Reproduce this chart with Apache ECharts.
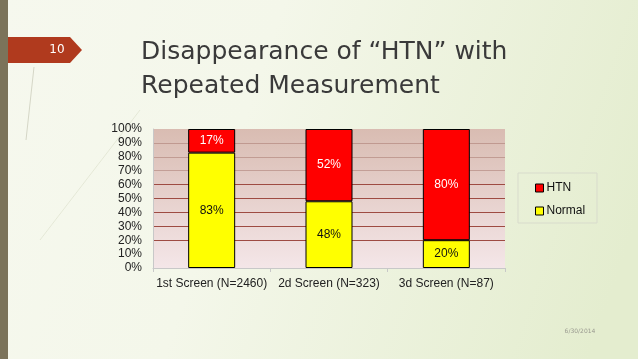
<!DOCTYPE html>
<html>
<head>
<meta charset="utf-8">
<script src="https://cdn.jsdelivr.net/npm/echarts@6/dist/echarts.min.js"></script>
<style>
html,body{margin:0;padding:0;}
#c{width:638px;height:359px;}
</style>
</head>
<body>
<div id="c"></div>
<script>
var categories = ['1st Screen (N=2460)', '2d Screen (N=323)', '3d Screen (N=87)'];
var normalValues = [83, 48, 20];
var htnValues = [17, 52, 80];
var yTicks = [0, 10, 20, 30, 40, 50, 60, 70, 80, 90, 100];

var chart = echarts.init(document.getElementById('c'), null, {renderer: 'canvas'});
var font = 'Liberation Sans, Arial, sans-serif';
var option = {
  backgroundColor: 'transparent',
  animation: false,
  graphic: [
    {type: 'rect', z: -10, shape: {x: 0, y: 0, width: 638, height: 359},
     style: {fill: {type: 'linear', x: 0, y: 0, x2: 1, y2: 0.6, colorStops: [
       {offset: 0, color: '#f6f8ee'}, {offset: 0.4, color: '#f4f7ea'}, {offset: 1, color: '#e4edcf'}]}}},
    {type: 'rect', z: -9, shape: {x: 0, y: 0, width: 8, height: 359}, style: {fill: '#7b735a'}},
    {type: 'polygon', z: 5, shape: {points: [[8, 37], [70, 37], [82, 50], [70, 63], [8, 63]]}, style: {fill: '#b03a1e'}},
    {type: 'text', z: 6, style: {text: '10', x: 57, y: 50, fill: '#ffffff', font: '12px "DejaVu Sans", sans-serif', align: 'center', verticalAlign: 'middle'}},
    {type: 'line', z: -8, shape: {x1: 34, y1: 67, x2: 26, y2: 140}, style: {stroke: '#9a9a80', lineWidth: 0.6, opacity: 0.6}},
    {type: 'line', z: -8, shape: {x1: 140, y1: 110, x2: 40, y2: 240}, style: {stroke: '#c8ccb0', lineWidth: 0.6, opacity: 0.6}},
    {type: 'text', z: 6, style: {text: 'Disappearance of \u201cHTN\u201d with\nRepeated Measurement', x: 141, y: 35, fill: '#3a3a3a', font: '25px "DejaVu Sans", sans-serif', lineHeight: 34, align: 'left', verticalAlign: 'top'}},
    {type: 'text', z: 6, style: {text: '6/30/2014', x: 580, y: 331, fill: '#9a9a90', font: '6px "DejaVu Sans", sans-serif', align: 'center', verticalAlign: 'middle'}},
    {type: 'rect', z: 1, shape: {x: 518, y: 173, width: 79, height: 50}, style: {fill: 'transparent', stroke: '#d8dbcc', lineWidth: 1}}
  ],
  grid: {left: 153, right: 133, top: 129, bottom: 91, show: true, borderWidth: 0,
    backgroundColor: {type: 'linear', x: 0, y: 0, x2: 0, y2: 1, colorStops: [
      {offset: 0, color: '#d9bcb2'}, {offset: 1, color: '#f4e6e8'}]}},
  legend: {
    orient: 'vertical', left: 530, top: 177, itemGap: 11, itemWidth: 8, itemHeight: 8,
    data: [{name: 'HTN', icon: 'rect'}, {name: 'Normal', icon: 'rect'}],
    itemStyle: {borderColor: '#000', borderWidth: 1},
    textStyle: {fontFamily: font, fontSize: 12, color: '#111', padding: [0, 0, 0, -2]}
  },
  xAxis: {
    type: 'category', data: categories,
    axisLine: {lineStyle: {color: '#c8c8c8'}},
    axisTick: {show: true, length: 4, lineStyle: {color: '#c8c8c8'}},
    axisLabel: {interval: 0, fontFamily: font, fontSize: 12, color: '#222', margin: 10}
  },
  yAxis: {
    type: 'value', min: 0, max: 100, interval: 10,
    axisLine: {show: true, lineStyle: {color: '#c8c8c8'}},
    axisTick: {show: false},
    axisLabel: {fontFamily: font, fontSize: 12, color: '#222', margin: 11,
      formatter: function (v) { return yTicks.indexOf(v) >= 0 ? v + '%' : ''; }},
    splitLine: {show: true, lineStyle: {width: 1, color: [
      'rgba(0,0,0,0)', 'rgba(0,0,0,0)', '#9e4b42', '#9e4b42', '#9e4b42', '#9e4b42', '#9e4b42',
      'rgba(150,95,85,0.4)', 'rgba(150,95,85,0.4)', 'rgba(150,95,85,0.4)', 'rgba(0,0,0,0)']}}
  },
  series: [
    {name: 'Normal', type: 'bar', stack: 's', data: normalValues, barWidth: 47,
     itemStyle: {color: '#ffff00', borderColor: '#000', borderWidth: 1},
     label: {show: true, position: 'inside', formatter: '{c}%', color: '#111', fontFamily: font, fontSize: 12}},
    {name: 'HTN', type: 'bar', stack: 's', data: htnValues, barWidth: 47,
     itemStyle: {color: '#ff0000', borderColor: '#000', borderWidth: 1},
     label: {show: true, position: 'inside', formatter: '{c}%', color: '#ffffff', fontFamily: font, fontSize: 12}}
  ]
};
chart.setOption(option);
</script>
</body>
</html>
